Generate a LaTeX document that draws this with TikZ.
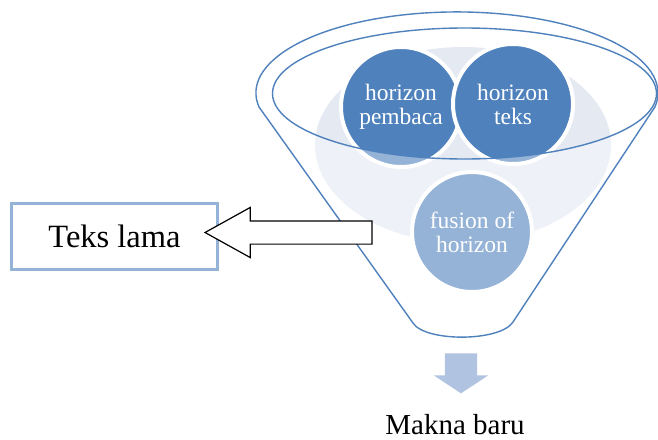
\documentclass[tikz,border=0pt]{standalone}
\usepackage{fontspec}
\setmainfont{Liberation Serif}
\usetikzlibrary{shapes.arrows, positioning}
\definecolor{funnelblue}{HTML}{4F81BD}
\definecolor{paleblue}{HTML}{95B3D7}
\definecolor{bgblue}{HTML}{E4E9F2}
\definecolor{downblue}{HTML}{B0C3E0}
\tikzstyle{horizon} = [circle, minimum size=120pt, inner sep=0pt, draw=white, line width=4pt, fill=funnelblue, text=white, align=center, font=\fontsize{23.5}{24}\selectfont]
\tikzstyle{funnelline} = [draw=funnelblue, line width=1.4pt]
\tikzstyle{oldtext} = [rectangle, minimum width=206pt, minimum height=66pt, draw=paleblue, line width=3pt, font=\fontsize{32.5}{34}\selectfont]
\tikzstyle{hollowarrow} = [single arrow, draw=black, fill=white, line width=1.2pt, rotate=180, minimum height=167pt, inner xsep=0pt, inner ysep=11pt, single arrow head extend=13.5pt, single arrow tip angle=58]
\tikzstyle{downarrow} = [single arrow, fill=downblue, rotate=-90, minimum height=40pt, inner xsep=0pt, inner ysep=16pt, single arrow head extend=11pt, single arrow tip angle=113]

\begin{document}
\begin{tikzpicture}[x=1pt, y=-1pt]
\useasboundingbox (0,0) rectangle (658,439);

% pale bowl behind the circles
\fill[bgblue] (463,145) ellipse [x radius=148, y radius=98];

\node (pembaca) [horizon] at (401,107) {horizon\\pembaca};
\node (teks) [horizon] at (513,104) {horizon\\teks};
\node (fusion) [horizon] at (472,232) {fusion of\\horizon};

% funnel body, see-through opening
\fill[white, opacity=0.4, even odd rule]
  (259,107) arc [start angle=170, end angle=370, x radius=201, y radius=81]
  -- (513,322) .. controls (500,342) and (425,342) .. (413,323) -- cycle
  (464.5,93.5) ellipse [x radius=192, y radius=65.5];

\draw[funnelline]
  (259,107) arc [start angle=170, end angle=370, x radius=201, y radius=81]
  -- (513,322) .. controls (500,342) and (425,342) .. (413,323) -- cycle;
\draw[funnelline] (464.5,93.5) ellipse [x radius=192, y radius=65.5];

\node (lama) [oldtext] at (114.5,236.5) {Teks lama};
\node (arrow) [hollowarrow] at (299,232.5) {};
\node (down) [downarrow] at (461,368) {};
\node (baru) [font=\fontsize{29}{31}\selectfont, anchor=base, inner sep=0pt] at (455,434) {Makna baru};

\end{tikzpicture}
\end{document}
